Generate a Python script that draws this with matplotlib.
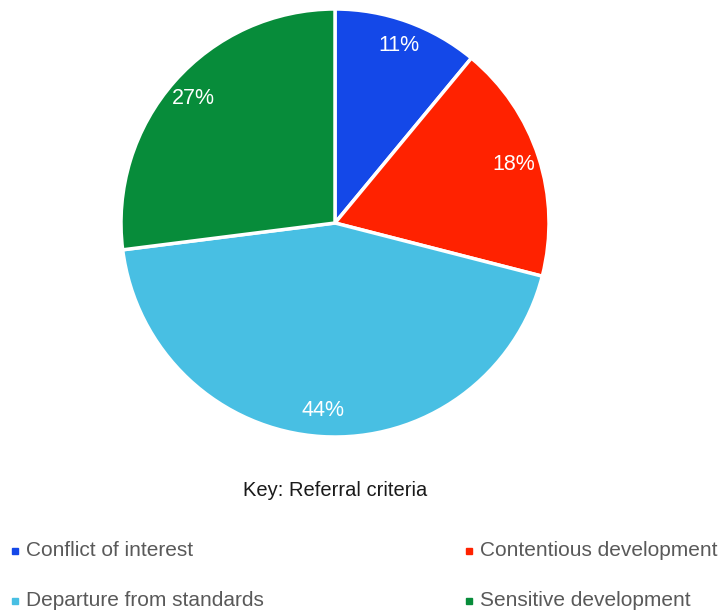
import matplotlib.pyplot as plt
from matplotlib.patches import Rectangle

plt.rcParams['font.family'] = ['Liberation Sans', 'DejaVu Sans']

categories = ['Conflict of interest', 'Contentious development',
              'Departure from standards', 'Sensitive development']
shares = [11, 18, 44, 27]
colors = ['#1448E8', '#FF2200', '#48BFE3', '#078C3A']

W, H = 724, 611
fig = plt.figure(figsize=(W / 100, H / 100), dpi=100)

# pie centred at (335, 223) px with radius 214 px
cx, cy, r = 335, 223, 214
ax = fig.add_axes([(cx - r) / W, (H - cy - r) / H, 2 * r / W, 2 * r / H])
wedges, texts, autotexts = ax.pie(
    shares, colors=colors, startangle=90, counterclock=False,
    autopct='%d%%', pctdistance=0.88,
    wedgeprops=dict(edgecolor='white', linewidth=2.5),
    textprops=dict(color='white', fontsize=15.5))
ax.set_xlim(-1, 1)
ax.set_ylim(-1, 1)
ax.set_aspect('equal')

fig.text(cx / W, 1 - 490 / H, 'Key: Referral criteria', ha='center', va='center',
         fontsize=14.5, color='#1a1a1a')

# two-column key below the pie
cols_x = [15, 469]
rows_y = [551, 601]
for i, (name, col) in enumerate(zip(categories, colors)):
    x = cols_x[i % 2]
    y = rows_y[i // 2]
    fig.patches.append(Rectangle(((x - 3) / W, 1 - (y + 3) / H), 6 / W, 6 / H,
                                 transform=fig.transFigure, color=col))
    fig.text((x + 11) / W, 1 - y / H, name, ha='left', va='center',
             fontsize=15, color='#595959')

fig.savefig('out.png', dpi=100)
